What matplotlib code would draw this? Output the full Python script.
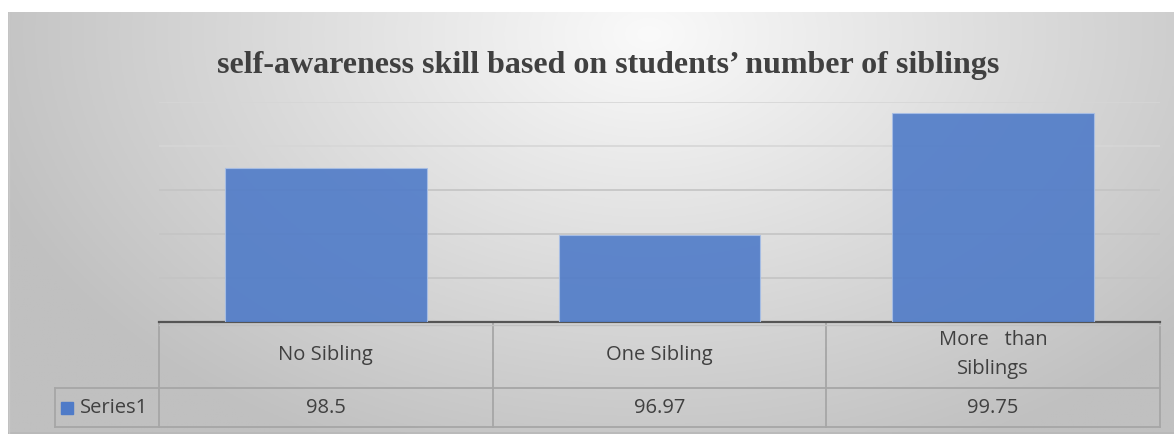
import numpy as np
import matplotlib.pyplot as plt
from matplotlib.lines import Line2D
import matplotlib.transforms as mtransforms

categories = ["No Sibling", "One Sibling", "More   than\nSiblings"]
values = [98.5, 96.97, 99.75]
value_labels = ["98.5", "96.97", "99.75"]
series_name = "Series1"
title = "self-awareness skill based on students\u2019 number of siblings"

W, H = 1174, 435
fig = plt.figure(figsize=(W / 100, H / 100), dpi=100)

# gradient background of the chart area
bg = fig.add_axes([8 / W, 0, 1 - 8 / W, (H - 13) / H])
gx, gy = np.meshgrid(np.linspace(0, 1, 400), np.linspace(0, 1, 200))
r = np.sqrt(((gx - 0.55) / 0.6) ** 2 + ((gy - 0.05) / 1.1) ** 2)
shade = 250 - 58 * np.clip(r, 0, 1)
bg.imshow(np.dstack([shade] * 3) / 255, aspect="auto", extent=[0, 1, 1, 0])
bg.set_xlim(0, 1)
bg.set_ylim(1, 0)
bg.axis("off")
bg.add_line(Line2D([0, 1], [0.002, 0.002], color="#b8b8b8", lw=1.2, transform=bg.transAxes))
bg.add_line(Line2D([0.0005, 0.0005], [0, 1], color="#c8c8c8", lw=1, transform=bg.transAxes))

ax = fig.add_axes([159 / W, (H - 323) / H, (1160 - 159) / W, 220 / H])
ax.patch.set_visible(False)
x = np.arange(len(categories))
ax.bar(x, [v - 95 for v in values], bottom=95, width=0.605, color="#4f7bc8",
       alpha=0.9, edgecolor="#a8bfe6", linewidth=0.8, zorder=3)
ax.set_xlim(-0.5, 2.5)
ax.set_ylim(95, 100)
for g in [96, 97, 98, 99, 100]:
    ax.axhline(g, color="#c4c4c4" if g < 99 else "#d6d6d6", lw=1.2, zorder=1)
ax.set_xticks([])
ax.set_yticks([])
for s in ["top", "left", "right"]:
    ax.spines[s].set_visible(False)
ax.spines["bottom"].set_color("#555555")
ax.spines["bottom"].set_linewidth(1.6)

fig.text(608 / W, 1 - 66 / H, title, ha="center", va="center",
         family="Liberation Serif", weight="bold", fontsize=23, color="#404040")

# data table below the axis
tr = mtransforms.blended_transform_factory(ax.transData, ax.transAxes)
y1, y2 = -66 / 220, -105 / 220
xl = -0.5 - 104 / 333.7
lc = "#a6a6a6"
for xv in [-0.5, 0.5, 1.5, 2.5]:
    ax.add_line(Line2D([xv, xv], [0, y2], color=lc, lw=1.3, transform=tr, clip_on=False))
ax.add_line(Line2D([xl, xl], [y1, y2], color=lc, lw=1.3, transform=tr, clip_on=False))
for yv in [y1, y2]:
    ax.add_line(Line2D([xl, 2.5], [yv, yv], color=lc, lw=1.3, transform=tr, clip_on=False))
ax.add_line(Line2D([-0.5, 2.5], [-0.012, -0.012], color="#c0c0c0", lw=1, transform=tr, clip_on=False))

fs = 14.5
for i, (c, v) in enumerate(zip(categories, value_labels)):
    ax.text(i, (0 + y1) / 2 + 0.005, c, transform=tr, ha="center", va="center",
            family="Open Sans", fontsize=fs, color="#404040", linespacing=1.6)
    ax.text(i, (y1 + y2) / 2, v, transform=tr, ha="center", va="center",
            family="Open Sans", fontsize=fs, color="#404040")
ax.plot([xl + 0.035], [(y1 + y2) / 2], marker="s", ms=9, color="#4f7bc8",
        transform=tr, clip_on=False)
ax.text(xl + 0.075, (y1 + y2) / 2, series_name, transform=tr, ha="left", va="center",
        family="Open Sans", fontsize=fs, color="#404040")

fig.savefig("out.png", dpi=100)
